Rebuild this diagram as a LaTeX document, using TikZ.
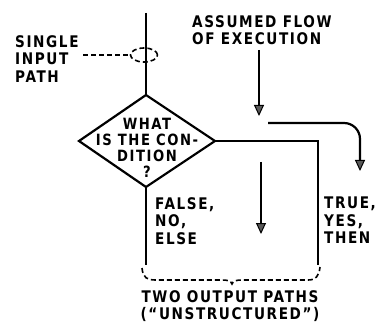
\documentclass[tikz,border=0pt]{standalone}
\usepackage{fontspec}
\setmainfont{DejaVu Sans}[LetterSpace=10,FakeStretch=0.85]
\usetikzlibrary{arrows.meta,shapes.geometric}
\begin{document}
\begin{tikzpicture}[x=1pt,y=-1pt,
  line/.style={line width=2.2pt},
  flow/.style={line width=2.2pt,-{Triangle[width=10pt,length=11pt,fill=gray!70!black,line width=1pt]}},
  lbl/.style={font=\fontsize{16}{17.5}\selectfont\bfseries,align=left,inner sep=0pt,anchor=north west},
  dsh/.style={line width=1.6pt,dash pattern=on 5pt off 3pt}]
\useasboundingbox (0,0) rectangle (380,323);
% diamond
\coordinate (top) at (146,95);
\coordinate (left) at (79,141);
\coordinate (right) at (215,141);
\coordinate (bot) at (146,187);
\coordinate (in) at (146,13);
\coordinate (rc) at (318,141);
\coordinate (rend) at (318,265);
\coordinate (lend) at (146,265);
\draw[line,line join=miter] (top) -- (right) -- (bot) -- (left) -- cycle;
\draw[line] (in) -- (top);
\draw[line] (right) -- (rc) -- (rend);
\draw[line] (bot) -- (lend);
\node[lbl,font=\fontsize{15.5}{16}\selectfont\bfseries,anchor=north,align=center] (cond) at (147,118) {WHAT\\IS THE CON-\\DITION\\?};
% single input
\node[lbl] (single) at (15,35) {SINGLE\\INPUT\\PATH};
\node[draw,dsh,ellipse,minimum width=27pt,minimum height=14pt,inner sep=0pt] (ell) at (144,55) {};
\coordinate (sp) at (83,55);
\draw[dsh] (sp) -- (ell.west);
% assumed flow
\node[lbl] (assumed) at (192,15) {ASSUMED FLOW\\OF EXECUTION};
\coordinate (a1s) at (259,50);
\coordinate (a1e) at (259,116);
\draw[flow] (a1s) -- (a1e);
\coordinate (a2s) at (268,123);
\coordinate (a2c) at (360,123);
\coordinate (a2e) at (360,171);
\draw[flow,rounded corners=16pt] (a2s) -- (a2c) -- (a2e);
\coordinate (a3s) at (261,162);
\coordinate (a3e) at (261,234);
\draw[flow] (a3s) -- (a3e);
% labels
\node[lbl] (false) at (155,197) {FALSE,\\NO,\\ELSE};
\node[lbl] (true) at (324,197) {TRUE,\\YES,\\THEN};
% brace
\coordinate (bl) at (142,268);
\coordinate (br) at (320,267);
\coordinate (tip) at (232,284);
\draw[dsh] (bl) .. controls (143,278) and (147,280) .. (156,280) -- (222,280)
  .. controls (228,280) and (231,281) .. (tip)
  .. controls (233,281) and (236,280) .. (242,280) -- (308,280)
  .. controls (316,280) and (319,276) .. (br);
\node[lbl,font=\fontsize{16}{17}\selectfont\bfseries,anchor=north,align=center] (two) at (230,290) {TWO OUTPUT PATHS\\(\char"201CUNSTRUCTURED\char"201D)};
\end{tikzpicture}
\end{document}
